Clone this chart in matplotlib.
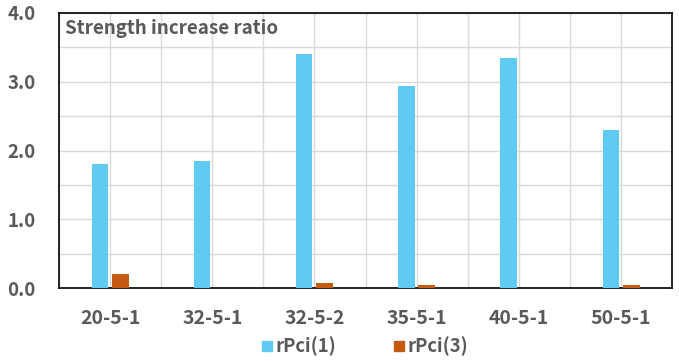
import numpy as np
import matplotlib
matplotlib.use("Agg")
import matplotlib.pyplot as plt
from matplotlib.patches import Patch

plt.rcParams['font.family'] = ['Noto Sans CJK KR', 'DejaVu Sans']

# Datos
categorias = ["20-5-1", "32-5-1", "32-5-2", "35-5-1", "40-5-1", "50-5-1"]
rpci1 = [1.80, 1.85, 3.40, 2.94, 3.35, 2.30]
rpci3 = [0.20, 0.0, 0.07, 0.045, 0.0, 0.045]
series = ["rPci(1)", "rPci(3)"]

azul = "#5FCBF3"
naranja = "#C55A11"
gris = "#595959"

fig = plt.figure(figsize=(6.79, 3.61), dpi=100)
ax = fig.add_axes([0.0869, 0.2022, 0.9028, 0.7618])

x = np.arange(len(categorias))
ax.bar(x - 0.1, rpci1, width=0.16, color=azul, zorder=3)
ax.bar(x + 0.1, rpci3, width=0.165, color=naranja, zorder=3)

ax.set_xlim(-0.5, len(categorias) - 0.5)
ax.set_ylim(0, 4.0)
ax.set_xticks(x)
ax.set_xticklabels(categorias)
ax.set_xticks(np.arange(-0.5, len(categorias), 1.0), minor=True)
ax.set_yticks([0, 1, 2, 3, 4])
ax.set_yticklabels([f"{v:.1f}" for v in [0, 1, 2, 3, 4]])
ax.set_yticks(np.arange(0.5, 4.0, 1.0), minor=True)

ax.grid(True, which="both", color="#D9D9D9", linewidth=1.0, zorder=0)
ax.tick_params(which="both", length=0)
ax.tick_params(axis="x", pad=15, labelsize=14, labelcolor=gris)
ax.tick_params(axis="y", pad=17, labelsize=13.5, labelcolor=gris)
for lbl in ax.get_xticklabels() + ax.get_yticklabels():
    lbl.set_fontweight("bold")

for s in ax.spines.values():
    s.set_color("black")
    s.set_linewidth(1.2)

ax.text(0.0098, 0.942, "Strength increase ratio", transform=ax.transAxes,
        fontsize=13.5, fontweight="bold", color=gris, ha="left", va="center")

handles = [Patch(color=azul), Patch(color=naranja)]
leg = fig.legend(handles, series, loc="center", bbox_to_anchor=(0.538, 0.04),
                 ncol=2, frameon=False, handlelength=0.54, handleheight=0.45,
                 handletextpad=0.22, columnspacing=3.1,
                 prop={"size": 13.3, "weight": "bold"})
for t in leg.get_texts():
    t.set_color(gris)

fig.savefig("out.png", dpi=100)
